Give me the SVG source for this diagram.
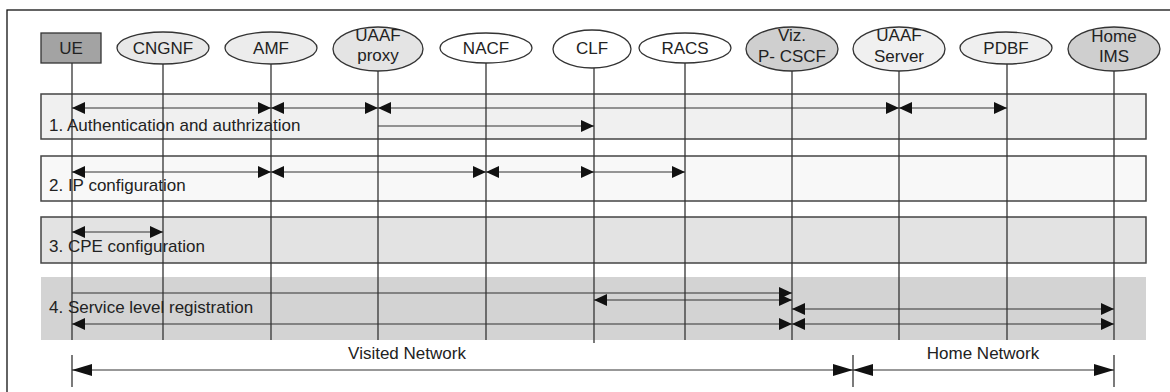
<svg xmlns="http://www.w3.org/2000/svg" width="1170" height="392" viewBox="0 0 1170 392">
<style>
.t{font-family:"Liberation Sans",Arial,sans-serif;font-size:17px;fill:#222}
.c{text-anchor:middle}
.sec{stroke:#444;stroke-width:1.5}
.life{stroke:#333;stroke-width:1.3;fill:none}
.arr{stroke:#333;stroke-width:1.1;fill:none;marker-end:url(#ah)}
.arr2{stroke:#333;stroke-width:1.1;fill:none;marker-end:url(#ah);marker-start:url(#ah)}
.big{stroke:#333;stroke-width:1.2;fill:none;marker-end:url(#bh);marker-start:url(#bh)}
.nd{stroke:#333;stroke-width:1.3}
</style>
<defs>
<marker id="ah" markerUnits="userSpaceOnUse" markerWidth="14" markerHeight="13" refX="13" refY="6" orient="auto-start-reverse"><path d="M0,0 L13,6 L0,12 z" fill="#111"/></marker>
<marker id="bh" markerUnits="userSpaceOnUse" markerWidth="21" markerHeight="13" refX="20" refY="6" orient="auto-start-reverse"><path d="M0,0 L20,6 L0,12 z" fill="#111"/></marker>
</defs>
<rect x="7" y="10" width="1200" height="420" fill="#fff" stroke="#111" stroke-width="1.3"/>
<g id="sections">
<rect x="41" y="94" width="1105" height="45" fill="#f0f0f0" class="sec"/>
<rect x="41" y="156" width="1105" height="45" fill="#f8f8f8" class="sec"/>
<rect x="41" y="217" width="1105" height="46" fill="#e3e3e3" class="sec"/>
<rect x="41" y="277" width="1105" height="63" fill="#d3d3d3"/>
</g>
<g id="lifelines">
<line class="life" x1="72" y1="63" x2="72" y2="340"/>
<line class="life" x1="163" y1="64" x2="163" y2="340"/>
<line class="life" x1="271" y1="64" x2="271" y2="340"/>
<line class="life" x1="378" y1="71" x2="378" y2="340"/>
<line class="life" x1="486" y1="63" x2="486" y2="340"/>
<line class="life" x1="594" y1="68" x2="594" y2="343"/>
<line class="life" x1="685" y1="63" x2="685" y2="340"/>
<line class="life" x1="792" y1="71" x2="792" y2="340"/>
<line class="life" x1="899" y1="71" x2="899" y2="340"/>
<line class="life" x1="1007" y1="64" x2="1007" y2="340"/>
<line class="life" x1="1114" y1="71" x2="1114" y2="340"/>
</g>
<g id="labels">
<text class="t" x="49" y="131">1. Authentication and authrization</text>
<text class="t" x="49" y="191">2. IP configuration</text>
<text class="t" x="49" y="252">3. CPE configuration</text>
<text class="t" x="49" y="313">4. Service level registration</text>
<text class="t c" x="407" y="359">Visited Network</text>
<text class="t c" x="983" y="359">Home Network</text>
</g>
<g id="connectors">
<line class="arr2" x1="72" y1="108" x2="271" y2="108"/>
<line class="arr2" x1="271" y1="108" x2="378" y2="108"/>
<line class="arr2" x1="378" y1="108" x2="899" y2="108"/>
<line class="arr2" x1="899" y1="108" x2="1007" y2="108"/>
<line class="arr" x1="378" y1="126" x2="594" y2="126"/>
<line class="arr2" x1="72" y1="172" x2="271" y2="172"/>
<line class="arr2" x1="271" y1="172" x2="486" y2="172"/>
<line class="arr2" x1="486" y1="172" x2="594" y2="172"/>
<line class="arr" x1="594" y1="172" x2="685" y2="172"/>
<line class="arr2" x1="72" y1="232" x2="163" y2="232"/>
<line class="arr" x1="72" y1="293" x2="792" y2="293"/>
<line class="arr2" x1="594" y1="300" x2="792" y2="300"/>
<line class="arr2" x1="792" y1="309" x2="1114" y2="309"/>
<line class="arr2" x1="72" y1="324" x2="792" y2="324"/>
<line class="arr2" x1="792" y1="324" x2="1114" y2="324"/>
<line class="life" x1="72" y1="355" x2="72" y2="387"/>
<line class="life" x1="853" y1="355" x2="853" y2="387"/>
<line class="life" x1="1114" y1="355" x2="1114" y2="387"/>
<line class="big" x1="72" y1="370" x2="853" y2="370"/>
<line class="big" x1="853" y1="370" x2="1114" y2="370"/>
</g>
<g id="UE"><rect class="nd" x="41" y="33" width="60" height="30" fill="#a3a3a3"/><text class="t c" x="71" y="54">UE</text></g>
<g id="CNGNF"><ellipse class="nd" cx="163" cy="48" rx="46" ry="16" fill="#e8e8e8"/><text class="t c" x="163" y="54">CNGNF</text></g>
<g id="AMF"><ellipse class="nd" cx="271" cy="48" rx="46" ry="16" fill="#ececec"/><text class="t c" x="271" y="54">AMF</text></g>
<g id="UAAF-proxy"><ellipse class="nd" cx="378" cy="49" rx="45" ry="22" fill="#e4e4e4"/><text class="t c" x="378" y="41">UAAF</text><text class="t c" x="378" y="61">proxy</text></g>
<g id="NACF"><ellipse class="nd" cx="486" cy="48" rx="46" ry="15" fill="#fff"/><text class="t c" x="486" y="54">NACF</text></g>
<g id="CLF"><ellipse class="nd" cx="592" cy="49" rx="39" ry="19" fill="#fff"/><text class="t c" x="592" y="54">CLF</text></g>
<g id="RACS"><ellipse class="nd" cx="685" cy="48" rx="46" ry="15" fill="#fff"/><text class="t c" x="685" y="54">RACS</text></g>
<g id="Viz-P-CSCF"><ellipse class="nd" cx="792" cy="49" rx="46" ry="22" fill="#cfcfcf"/><text class="t c" x="792" y="41">Viz.</text><text class="t c" x="792" y="62">P- CSCF</text></g>
<g id="UAAF-Server"><ellipse class="nd" cx="899" cy="49" rx="46" ry="22" fill="#f0f0f0"/><text class="t c" x="899" y="41">UAAF</text><text class="t c" x="899" y="62">Server</text></g>
<g id="PDBF"><ellipse class="nd" cx="1006" cy="48" rx="46" ry="16" fill="#efefef"/><text class="t c" x="1006" y="54">PDBF</text></g>
<g id="Home-IMS"><ellipse class="nd" cx="1114" cy="49" rx="46" ry="22" fill="#cfcfcf"/><text class="t c" x="1114" y="42">Home</text><text class="t c" x="1114" y="62">IMS</text></g>
</svg>
